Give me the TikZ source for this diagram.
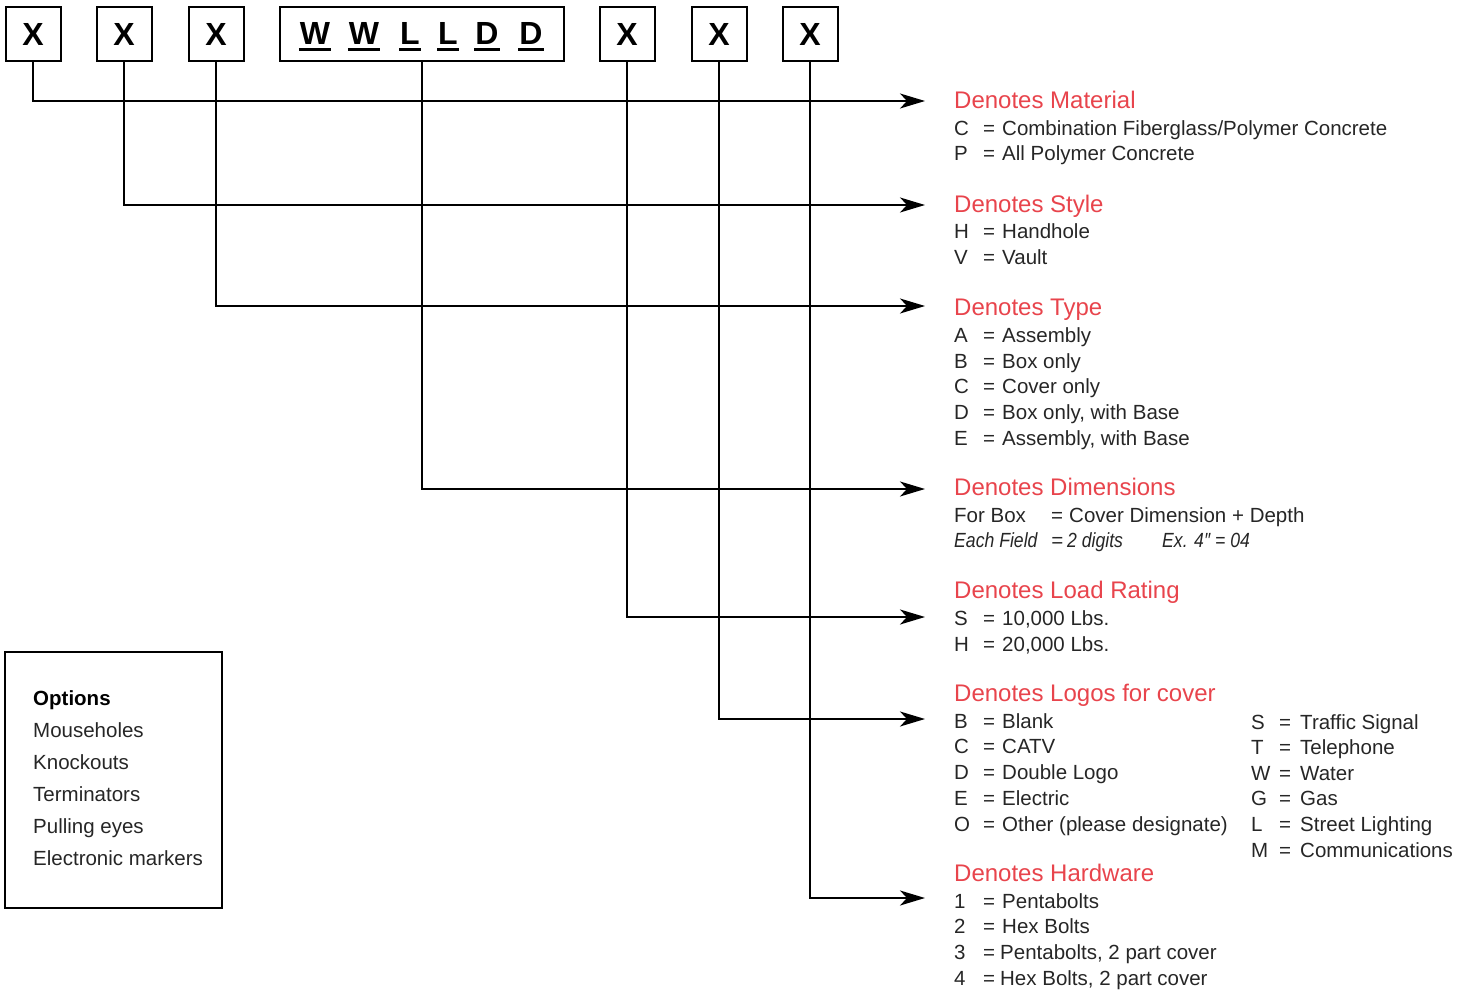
\documentclass[tikz,border=0pt]{standalone}
\usepackage{fontspec}
\usepackage{graphicx}
\setmainfont{Liberation Sans}
\usetikzlibrary{arrows.meta}
\definecolor{hdr}{HTML}{E8444C}
\definecolor{txt}{HTML}{262626}
\newcommand\ulet[1]{\setbox0\hbox{#1}\rlap{\kern-1pt\vrule height -3.5pt depth 6pt width \dimexpr\wd0+2pt\relax}\box0}
\newcommand\row[2]{\makebox[29pt][l]{#1}\makebox[19pt][l]{=}#2}
\newcommand\rowb[2]{\makebox[28pt][l]{#1}\makebox[21pt][l]{=}#2}
\newcommand\cond[1]{\scalebox{0.86}[1]{#1}}
\begin{document}
\begin{tikzpicture}[x=1pt,y=-1pt,
  code/.style={draw, line width=2pt, minimum height=54pt, inner sep=0pt,
    font=\fontsize{32}{36}\selectfont\bfseries},
  xbox/.style={code, minimum width=55pt},
  lt/.style={anchor=base, inner sep=0pt, font=\fontsize{32}{36}\selectfont\bfseries},
  conn/.style={line width=2pt, -{Stealth[length=25pt,width=15pt,inset=7pt]}},
  hd/.style={anchor=base west, inner sep=0pt, text=hdr, font=\fontsize{24}{28}\selectfont},
  bd/.style={anchor=base west, inner sep=0pt, text=txt, font=\fontsize{20.5}{24}\selectfont},
]
\useasboundingbox (0,0) rectangle (1471,992);

% code boxes
\node[xbox] (b1) at (33,34) {X};
\node[xbox] (b2) at (124,34) {X};
\node[xbox] (b3) at (216,34) {X};
\node[code, minimum width=284pt] (b4) at (421.5,34) {};
\node[xbox] (b5) at (627,34) {X};
\node[xbox] (b6) at (719,34) {X};
\node[xbox] (b7) at (810,34) {X};
\node[lt] (w1) at (315,45) {\ulet{W}};
\node[lt] (w2) at (364,45) {\ulet{W}};
\node[lt] (l1) at (410,45) {\ulet{L}};
\node[lt] (l2) at (448,45) {\ulet{L}};
\node[lt] (d1) at (487,45) {\ulet{D}};
\node[lt] (d2) at (531,45) {\ulet{D}};

% arrow ends
\coordinate (e1) at (925,101);
\coordinate (e2) at (925,205);
\coordinate (e3) at (925,306);
\coordinate (e4) at (925,489);
\coordinate (e5) at (925,617);
\coordinate (e6) at (925,719);
\coordinate (e7) at (925,898);

\draw[conn] (b1.south) |- (e1);
\draw[conn] (b2.south) |- (e2);
\draw[conn] (b3.south) |- (e3);
\draw[conn] (b4.south) |- (e4);
\draw[conn] (b5.south) |- (e5);
\draw[conn] (b6.south) |- (e6);
\draw[conn] (b7.south) |- (e7);

% Material
\node[hd] (h1) at (954,108.5) {Denotes Material};
\node[bd] (m1) at (954,136) {\row{C}{Combination Fiberglass/Polymer Concrete}};
\node[bd] (m2) at (954,161) {\row{P}{All Polymer Concrete}};

% Style
\node[hd] (h2) at (954,212.5) {Denotes Style};
\node[bd] (s1) at (954,239) {\row{H}{Handhole}};
\node[bd] (s2) at (954,265) {\row{V}{Vault}};

% Type
\node[hd] (h3) at (954,315.5) {Denotes Type};
\foreach \y/\l/\t [count=\i] in {342/A/Assembly, 368/B/Box only, 393/C/Cover only,
   419/D/{Box only, with Base}, 445/E/{Assembly, with Base}}
  \node[bd] (ty\i) at (954,\y) {\row{\l}{\t}};

% Dimensions
\node[hd] (h4) at (954,495.5) {Denotes Dimensions};
\node[bd] (dm1) at (954,522) {\makebox[97pt][l]{For Box}\makebox[18pt][l]{=}Cover Dimension + Depth};
\node[bd] (dm2) at (954,547) {\itshape\makebox[97pt][l]{\cond{Each Field}}\makebox[16pt][l]{=}\makebox[95pt][l]{\cond{2 digits}}\cond{Ex. 4″ = 04}};

% Load rating
\node[hd] (h5) at (954,598.5) {Denotes Load Rating};
\node[bd] (lr1) at (954,625) {\row{S}{10,000 Lbs.}};
\node[bd] (lr2) at (954,651) {\row{H}{20,000 Lbs.}};

% Logos
\node[hd] (h6) at (954,701.5) {Denotes Logos for cover};
\foreach \y/\l/\t [count=\i] in {728/B/Blank, 753/C/CATV, 779/D/Double Logo,
   805/E/Electric, 831/O/Other (please designate)}
  \node[bd] (lg\i) at (954,\y) {\row{\l}{\t}};
\foreach \y/\l/\t [count=\i] in {729/S/Traffic Signal, 754/T/Telephone, 780/W/Water,
   805/G/Gas, 831/L/Street Lighting, 857/M/Communications}
  \node[bd] (lh\i) at (1251,\y) {\rowb{\l}{\t}};

% Hardware
\node[hd] (h7) at (954,881.5) {Denotes Hardware};
\node[bd] (hw1) at (954,908) {\row{1}{Pentabolts}};
\node[bd] (hw2) at (954,933) {\row{2}{Hex Bolts}};
\node[bd] (hw3) at (954,959) {\makebox[29pt][l]{3}\makebox[17pt][l]{=}Pentabolts, 2 part cover};
\node[bd] (hw4) at (954,985) {\makebox[29pt][l]{4}\makebox[17pt][l]{=}Hex Bolts, 2 part cover};

% Options box
\node[draw, line width=1.2pt, minimum width=217pt, minimum height=256pt, inner sep=0pt] (opt) at (113.5,780) {};
\node[bd, text=black, font=\fontsize{20.5}{24}\selectfont\bfseries] (o0) at (33,705) {Options};
\foreach \y/\t [count=\i] in {737/Mouseholes, 769/Knockouts, 801/Terminators,
   833/Pulling eyes, 865/Electronic markers}
  \node[bd] (o\i) at (33,\y) {\t};
\end{tikzpicture}
\end{document}
